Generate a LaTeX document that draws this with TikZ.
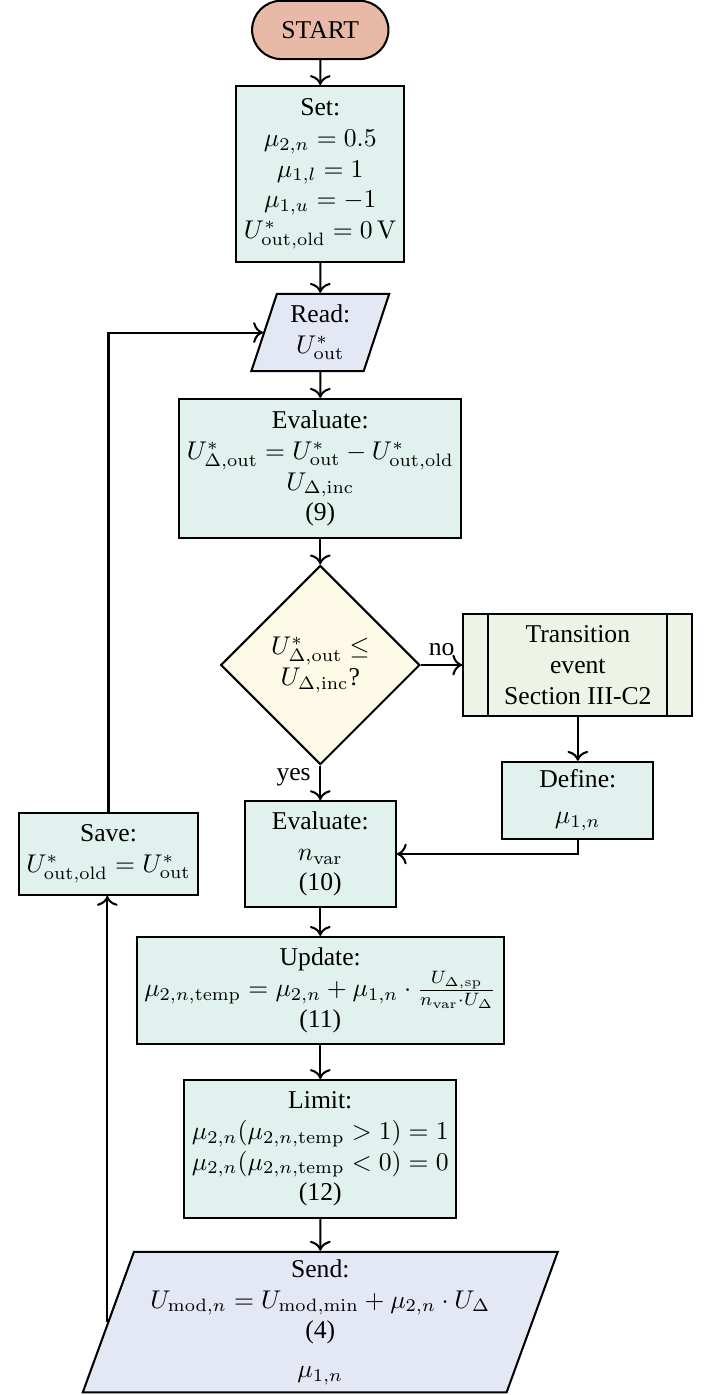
\documentclass[tikz,border=0pt]{standalone}
\usepackage[no-math]{fontspec}
\setmainfont{Liberation Serif}
\usepackage{amsmath}
\usetikzlibrary{positioning, shapes.geometric, shapes.misc, arrows.meta}
\definecolor{StartRed}{HTML}{E9B9A8}
\definecolor{BoxTeal}{HTML}{E0F1EE}
\definecolor{IOBlue}{HTML}{E4E8F5}
\definecolor{DecYellow}{HTML}{FDFAE8}
\definecolor{SubGreen}{HTML}{EDF3E6}

\tikzset{
  base/.style={draw, line width=0.8pt, align=center, inner sep=3pt},
  startstop/.style={base, rounded rectangle, fill=StartRed, minimum width=2.08cm, minimum height=0.8cm},
  process/.style={base, rectangle, fill=BoxTeal, minimum width=2.07cm},
  io/.style={base, trapezium, trapezium left angle=70, trapezium right angle=110,
             trapezium stretches body, fill=IOBlue},
  decision/.style={base, diamond, aspect=1, fill=DecYellow, inner sep=0pt,
                   minimum width=2.73cm, minimum height=2.73cm},
  subproc/.style={base, rectangle, fill=SubGreen, minimum width=3.14cm, minimum height=1.4cm},
  line/.style={draw, line width=0.8pt, -{To[scale=1.15]}}
}

\begin{document}
\begin{tikzpicture}
  \useasboundingbox (0,0) rectangle (9.718,-19.121);

  %% main column
  \node[startstop] (start) at (4.39,-0.41) {START};
  \node[process, minimum height=2.41cm] (set) at (4.39,-2.385)
    {Set:\\$\mu_{2,n}=0.5$\\$\mu_{1,l}=1$\\$\mu_{1,u}=-1$\\$U^*_{\mathrm{out,old}}=0\,\mathrm{V}$};
  \node[io, minimum height=1.06cm, minimum width=1.89cm] (read) at (4.39,-4.558)
    {Read:\\$U^*_{\mathrm{out}}$};
  \node[process, minimum height=1.91cm] (eval1) at (4.39,-6.422)
    {Evaluate:\\$U^*_{\Delta,\mathrm{out}}=U^*_{\mathrm{out}}-U^*_{\mathrm{out,old}}$\\$U_{\Delta,\mathrm{inc}}$\\(9)};
  \node[decision] (dec) at (4.39,-9.115)
    {$U^*_{\Delta,\mathrm{out}}\leq$\\$U_{\Delta,\mathrm{inc}}$?};
  \node[process, minimum height=1.45cm] (eval2) at (4.39,-11.706)
    {Evaluate:\\$n_{\mathrm{var}}$\\(10)};
  \node[process, minimum height=1.47cm] (update) at (4.39,-13.577)
    {Update:\\$\mu_{2,n,\mathrm{temp}}=\mu_{2,n}+\mu_{1,n}\cdot\frac{U_{\Delta,\mathrm{sp}}}{n_{\mathrm{var}}\cdot U_{\Delta}}$\\(11)};
  \node[process, minimum height=1.89cm] (limit) at (4.39,-15.749)
    {Limit:\\$\mu_{2,n}(\mu_{2,n,\mathrm{temp}}>1)=1$\\$\mu_{2,n}(\mu_{2,n,\mathrm{temp}}<0)=0$\\(12)};
  \node[io, minimum height=1.92cm, minimum width=6.51cm] (send) at (4.39,-18.121)
    {Send:\\$U_{\mathrm{mod},n}=U_{\mathrm{mod,min}}+\mu_{2,n}\cdot U_{\Delta}$\\(4)\\[3pt]$\mu_{1,n}$};

  %% right branch
  \node[subproc] (trans) at (7.92,-9.115) {Transition\\event\\Section III-C2};
  \draw[line width=0.8pt] ([xshift=0.356cm]trans.north west) -- ([xshift=0.356cm]trans.south west);
  \draw[line width=0.8pt] ([xshift=-0.356cm]trans.north east) -- ([xshift=-0.356cm]trans.south east);
  \node[process, minimum height=1.06cm] (define) at (7.92,-10.972) {Define:\\[2pt]$\mu_{1,n}$};

  %% left branch
  \node[process, minimum height=1.12cm] (save) at (1.487,-11.706)
    {Save:\\$U^*_{\mathrm{out,old}}=U^*_{\mathrm{out}}$};

  %% connectors
  \draw[line] (start) -- (set);
  \draw[line] (set) -- (read);
  \draw[line] (read) -- (eval1);
  \draw[line] (eval1) -- (dec);
  \draw[line] (dec) -- node[above] {no} (trans);
  \draw[line] (dec) -- node[left, pos=0.35] {yes} (eval2);
  \draw[line] (trans) -- (define);
  \draw[line] (define.south) |- (eval2.east);
  \draw[line] (eval2) -- (update);
  \draw[line] (update) -- (limit);
  \draw[line] (limit) -- (send);
  \draw[line] (send.west) -- (send.west |- save.south);
  \draw[line] (save.north) |- (read.west);
\end{tikzpicture}
\end{document}
